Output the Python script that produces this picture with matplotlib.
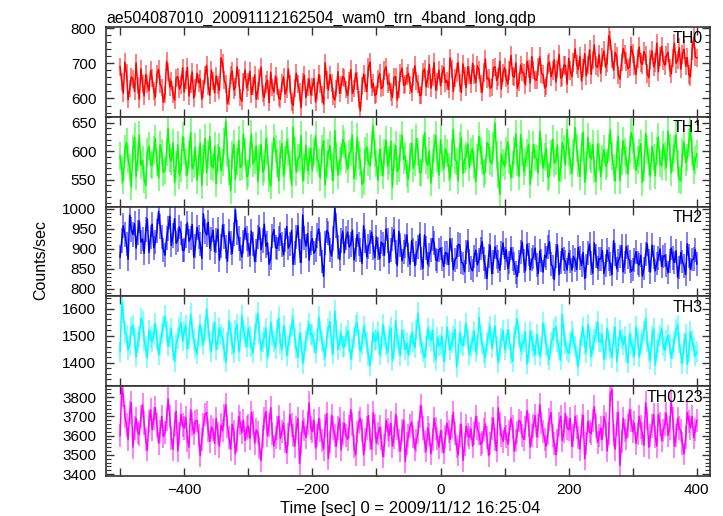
# -*- coding: utf-8 -*-

import numpy as np
import matplotlib
matplotlib.use("Agg")
import matplotlib.pyplot as plt
from matplotlib.ticker import MultipleLocator, FuncFormatter

plt.rcParams['font.family'] = ['Liberation Sans', 'DejaVu Sans']

########################################################################################################################
# data (rates, one value every 2.5 s starting at -500 s)
t0, dt = -500.0, 2.5

th0 = [690, 648, 615, 703, 672, 596, 628, 661, 655, 620, 701, 637, 598, 684, 640, 607, 668, 641, 622, 679,
       657, 622, 604, 669, 683, 640, 631, 590, 612, 705, 676, 633, 649, 611, 595, 658, 662, 627, 638, 687,
       618, 653, 688, 607, 642, 675, 601, 629, 671, 644, 655, 598, 627, 666, 694, 635, 609, 681, 650, 616,
       664, 639, 623, 715, 699, 652, 640, 585, 606, 667, 678, 624, 632, 690, 657, 603, 592, 648, 681, 630,
       646, 677, 611, 635, 667, 598, 622, 659, 689, 614, 603, 642, 652, 588, 674, 631, 618, 664, 636, 602,
       598, 643, 661, 612, 627, 684, 642, 590, 580, 629, 672, 640, 619, 575, 648, 666, 603, 632, 655, 610,
       633, 657, 590, 621, 668, 641, 612, 584, 701, 653, 624, 667, 645, 605, 596, 628, 676, 615, 639, 662,
       657, 626, 608, 649, 682, 614, 628, 672, 650, 597, 565, 636, 669, 645, 620, 688, 704, 631, 643, 609,
       612, 655, 671, 628, 633, 679, 690, 641, 647, 618, 603, 660, 662, 596, 625, 673, 686, 637, 640, 664,
       671, 639, 618, 662, 693, 651, 642, 608, 610, 676, 684, 633, 655, 697, 629, 660, 702, 624, 648, 681,
       636, 670, 689, 645, 651, 626, 715, 683, 620, 658, 674, 702, 643, 617, 698, 664, 631, 690, 667, 642,
       700, 668, 645, 693, 681, 640, 618, 674, 712, 655, 658, 629, 633, 687, 690, 651, 662, 706, 627, 672,
       688, 657, 641, 679, 722, 665, 660, 701, 629, 648, 695, 676, 671, 638, 706, 684, 644, 719, 680, 653,
       652, 689, 718, 671, 668, 630, 635, 697, 703, 662, 679, 710, 647, 684, 725, 658, 662, 695, 694, 641,
       714, 679, 662, 703, 741, 696, 683, 720, 650, 687, 727, 664, 695, 738, 668, 709, 752, 693, 688, 725,
       672, 716, 735, 689, 701, 778, 764, 712, 680, 731, 718, 667, 655, 704, 742, 725, 706, 685, 690, 748,
       728, 694, 668, 713, 746, 702, 697, 733, 721, 671, 659, 711, 735, 690, 702, 757, 676, 719, 748, 707,
       694, 722, 731, 686, 670, 715, 757, 700, 709, 744, 683, 726, 740, 692, 716, 668, 661, 735, 772, 718,
       715]

th1 = [592, 567, 548, 603, 615, 586, 571, 537, 603, 624, 556, 590, 628, 575, 584, 551, 540, 598, 609, 577,
       575, 602, 621, 580, 553, 611, 597, 563, 566, 599, 640, 588, 582, 614, 545, 576, 611, 558, 569, 626,
       600, 581, 558, 594, 633, 569, 577, 607, 549, 583, 614, 540, 586, 622, 562, 595, 625, 574, 571, 609,
       543, 588, 607, 566, 580, 616, 652, 597, 565, 531, 593, 612, 551, 582, 619, 571, 574, 630, 598, 555,
       561, 594, 630, 578, 585, 609, 547, 586, 612, 563, 570, 621, 601, 552, 539, 590, 623, 604, 579, 548,
       595, 613, 556, 584, 618, 599, 576, 541, 642, 600, 563, 588, 589, 627, 548, 572, 610, 566, 583, 605,
       566, 598, 627, 587, 579, 553, 604, 618, 541, 577, 597, 610, 572, 549, 636, 592, 558, 583, 590, 620,
       613, 586, 568, 595, 599, 628, 552, 574, 624, 593, 581, 542, 546, 601, 607, 580, 574, 611, 645, 596,
       578, 549, 603, 581, 557, 596, 619, 573, 584, 617, 537, 590, 610, 564, 569, 606, 628, 585, 592, 561,
       551, 590, 614, 570, 580, 622, 598, 562, 563, 603, 632, 584, 575, 600, 544, 579, 606, 627, 587, 558,
       620, 588, 569, 604, 596, 572, 553, 597, 638, 585, 582, 548, 609, 623, 561, 586, 591, 612, 571, 599,
       604, 576, 547, 589, 626, 601, 585, 560, 565, 615, 612, 583, 578, 608, 649, 593, 559, 524, 594, 580,
       573, 600, 616, 585, 553, 577, 601, 630, 580, 556, 629, 598, 564, 581, 596, 612, 542, 575, 611, 589,
       587, 562, 634, 601, 570, 590, 605, 554, 557, 595, 621, 579, 583, 611, 548, 569, 615, 603, 576, 638,
       599, 582, 561, 597, 641, 605, 578, 556, 607, 633, 546, 574, 624, 591, 586, 612, 568, 547, 612, 590,
       555, 587, 603, 574, 579, 606, 637, 592, 571, 548, 594, 626, 549, 583, 618, 599, 584, 560, 602, 632,
       620, 593, 566, 584, 597, 613, 545, 571, 630, 602, 582, 556, 608, 589, 557, 600, 625, 578, 574, 611,
       591, 572, 635, 606, 562, 587, 604, 629, 578, 551, 548, 596, 616, 580, 589, 614, 643, 598, 567, 584,
       595]

th2 = [880, 921, 958, 936, 912, 874, 985, 948, 936, 963, 902, 941, 970, 917, 925, 889, 948, 975, 891, 930,
       962, 903, 918, 945, 994, 957, 930, 898, 884, 927, 951, 982, 909, 934, 976, 914, 922, 955, 940, 896,
       897, 933, 965, 919, 928, 961, 880, 907, 954, 929, 913, 876, 988, 944, 935, 967, 902, 925, 947, 893,
       921, 949, 872, 908, 960, 931, 905, 869, 943, 915, 889, 937, 998, 941, 926, 900, 880, 918, 952, 926,
       909, 884, 944, 913, 868, 896, 930, 953, 898, 921, 962, 907, 915, 862, 876, 933, 948, 904, 901, 926,
       938, 911, 885, 923, 956, 902, 912, 946, 861, 889, 930, 958, 894, 866, 985, 927, 907, 938, 872, 915,
       926, 889, 897, 934, 950, 913, 868, 831, 915, 946, 940, 897, 882, 926, 1002, 958, 905, 873, 921, 944,
       890, 927, 942, 905, 911, 947, 872, 898, 936, 912, 898, 864, 958, 920, 880, 906, 917, 942, 903, 878,
       930, 901, 875, 917, 912, 884, 950, 921, 866, 897, 925, 948, 892, 858, 944, 910, 870, 893, 908, 935,
       884, 862, 921, 897, 858, 889, 905, 937, 876, 851, 935, 902, 862, 884, 898, 926, 915, 873, 870, 897,
       902, 875, 856, 891, 889, 861, 925, 898, 848, 872, 880, 911, 910, 866, 864, 843, 893, 920, 871, 852,
       845, 881, 897, 860, 872, 901, 918, 874, 855, 826, 882, 909, 838, 867, 905, 879, 868, 847, 889, 915,
       876, 898, 851, 866, 903, 875, 864, 840, 831, 869, 892, 917, 870, 845, 912, 886, 848, 873, 880, 902,
       860, 838, 895, 871, 842, 884, 878, 904, 918, 862, 855, 823, 883, 910, 836, 866, 901, 874, 867, 847,
       889, 869, 847, 881, 872, 848, 904, 877, 858, 891, 826, 857, 890, 912, 865, 839, 915, 882, 852, 875,
       875, 896, 838, 859, 897, 874, 862, 835, 920, 886, 850, 871, 881, 908, 843, 866, 906, 880, 869, 844,
       848, 872, 893, 865, 860, 884, 832, 851, 887, 913, 871, 842, 909, 879, 845, 864, 878, 900, 856, 881,
       884, 859, 840, 870, 902, 877, 866, 895, 829, 854, 891, 868, 857, 836, 913, 882, 849, 873, 875, 898,
       862]

th3 = [1440, 1625, 1585, 1512, 1502, 1447, 1466, 1530, 1538, 1489, 1421, 1474, 1497, 1563, 1551, 1484, 1459, 1418, 1520, 1493,
       1478, 1506, 1545, 1487, 1430, 1468, 1509, 1534, 1572, 1515, 1462, 1493, 1526, 1449, 1405, 1471, 1490, 1529, 1548, 1482,
       1515, 1538, 1452, 1491, 1580, 1527, 1487, 1455, 1433, 1502, 1541, 1496, 1468, 1520, 1599, 1531, 1476, 1443, 1512, 1549,
       1448, 1485, 1530, 1504, 1491, 1446, 1402, 1475, 1557, 1512, 1469, 1437, 1518, 1542, 1440, 1481, 1575, 1523, 1496, 1458,
       1529, 1498, 1460, 1436, 1506, 1545, 1583, 1510, 1444, 1477, 1493, 1528, 1417, 1462, 1550, 1501, 1479, 1454, 1521, 1566,
       1472, 1449, 1538, 1497, 1426, 1465, 1500, 1536, 1561, 1489, 1455, 1420, 1511, 1476, 1398, 1441, 1484, 1519, 1543, 1505,
       1503, 1474, 1437, 1488, 1569, 1516, 1481, 1447, 1422, 1495, 1527, 1552, 1466, 1433, 1591, 1523, 1450, 1482, 1508, 1461,
       1459, 1496, 1520, 1478, 1412, 1453, 1494, 1537, 1548, 1486, 1441, 1469, 1533, 1505, 1474, 1425, 1390, 1448, 1512, 1481,
       1485, 1514, 1431, 1460, 1542, 1499, 1468, 1436, 1501, 1529, 1409, 1452, 1556, 1490, 1463, 1427, 1520, 1487, 1448, 1473,
       1427, 1466, 1510, 1479, 1456, 1524, 1583, 1502, 1471, 1440, 1418, 1459, 1527, 1498, 1482, 1521, 1439, 1411, 1495, 1463,
       1468, 1497, 1405, 1444, 1532, 1481, 1450, 1476, 1497, 1524, 1385, 1433, 1514, 1470, 1462, 1501, 1546, 1487, 1430, 1458,
       1483, 1517, 1440, 1464, 1568, 1505, 1472, 1438, 1419, 1475, 1508, 1532, 1455, 1491, 1536, 1462, 1401, 1446, 1489, 1520,
       1449, 1473, 1521, 1486, 1432, 1405, 1494, 1528, 1560, 1497, 1444, 1469, 1478, 1512, 1396, 1437, 1517, 1483, 1461, 1429,
       1503, 1468, 1426, 1455, 1547, 1509, 1465, 1431, 1412, 1476, 1491, 1522, 1533, 1480, 1448, 1410, 1579, 1506, 1470, 1444,
       1436, 1472, 1515, 1490, 1459, 1425, 1387, 1451, 1502, 1530, 1468, 1439, 1541, 1493, 1423, 1464, 1485, 1511, 1551, 1477,
       1477, 1503, 1413, 1449, 1528, 1484, 1452, 1420, 1496, 1531, 1404, 1458, 1519, 1488, 1466, 1497, 1437, 1400, 1509, 1471,
       1455, 1426, 1532, 1491, 1421, 1468, 1487, 1515, 1564, 1478, 1443, 1410, 1498, 1525, 1392, 1445, 1473, 1500, 1527, 1462,
       1446, 1484, 1501, 1467, 1418, 1452, 1480, 1523, 1539, 1474, 1432, 1398, 1470, 1506, 1395, 1440, 1514, 1481, 1458, 1427,
       1440]

th0123 = [3600, 3845, 3810, 3700, 3655, 3580, 3720, 3770, 3540, 3640, 3690, 3615, 3605, 3700, 3760, 3665, 3580, 3525, 3675, 3735,
          3630, 3690, 3745, 3655, 3560, 3620, 3700, 3595, 3615, 3685, 3790, 3700, 3585, 3530, 3660, 3725, 3520, 3610, 3710, 3655,
          3640, 3695, 3575, 3540, 3735, 3660, 3610, 3675, 3680, 3600, 3495, 3580, 3655, 3710, 3720, 3625, 3570, 3645, 3630, 3560,
          3690, 3610, 3545, 3655, 3625, 3705, 3760, 3650, 3590, 3530, 3660, 3620, 3505, 3575, 3700, 3665, 3615, 3680, 3575, 3640,
          3650, 3585, 3720, 3665, 3560, 3630, 3615, 3540, 3470, 3595, 3690, 3725, 3600, 3655, 3745, 3610, 3545, 3590, 3640, 3700,
          3585, 3620, 3665, 3570, 3510, 3605, 3710, 3655, 3600, 3545, 3640, 3690, 3455, 3560, 3675, 3630, 3590, 3665, 3770, 3640,
          3620, 3680, 3535, 3600, 3690, 3625, 3575, 3530, 3650, 3715, 3480, 3570, 3705, 3640, 3600, 3545, 3640, 3690, 3525, 3610,
          3665, 3600, 3580, 3645, 3735, 3660, 3545, 3500, 3615, 3670, 3690, 3625, 3500, 3580, 3640, 3705, 3585, 3530, 3720, 3650,
          3560, 3610, 3645, 3585, 3490, 3550, 3680, 3630, 3600, 3665, 3545, 3590, 3710, 3640, 3575, 3520, 3625, 3680, 3465, 3560,
          3600, 3650, 3670, 3595, 3530, 3575, 3615, 3700, 3755, 3640, 3570, 3520, 3640, 3605, 3505, 3580, 3690, 3635, 3585, 3540,
          3625, 3570, 3510, 3595, 3665, 3620, 3580, 3645, 3720, 3610, 3545, 3500, 3600, 3660, 3470, 3555, 3650, 3605, 3590, 3635,
          3545, 3610, 3700, 3640, 3610, 3555, 3565, 3630, 3660, 3590, 3495, 3560, 3635, 3690, 3580, 3520, 3745, 3660, 3600, 3570,
          3640, 3595, 3555, 3620, 3690, 3645, 3520, 3575, 3615, 3680, 3670, 3600, 3580, 3640, 3730, 3655, 3540, 3600, 3650, 3705,
          3595, 3650, 3760, 3670, 3620, 3580, 3545, 3610, 3685, 3720, 3600, 3560, 3500, 3575, 3660, 3700, 3575, 3620, 3715, 3640,
          3630, 3690, 3545, 3600, 3700, 3645, 3590, 3530, 3650, 3705, 3480, 3560, 3675, 3620, 3610, 3680, 3750, 3650, 3565, 3600,
          3640, 3580, 3700, 3660, 3520, 3610, 3815, 3840, 3600, 3530, 3660, 3720, 3445, 3570, 3690, 3625, 3585, 3650, 3735, 3680,
          3620, 3665, 3560, 3610, 3700, 3645, 3610, 3550, 3770, 3690, 3540, 3600, 3650, 3710, 3595, 3545, 3710, 3660, 3575, 3625,
          3660, 3715, 3600, 3640, 3780, 3690, 3545, 3600, 3690, 3640, 3625, 3560, 3505, 3590, 3720, 3675, 3640, 3700, 3590, 3630,
          3680]

names = ['TH0', 'TH1', 'TH2', 'TH3', 'TH0123']
series = [th0, th1, th2, th3, th0123]
colors = ['#ff0000', '#00ff00', '#0000ff', '#00ffff', '#ff00ff']
ylims = [(548, 803), (503, 660), (781, 1006), (1314, 1645), (3390, 3857)]
ymajor = [100, 50, 50, 100, 100]
yminor = [20, 10, 10, 20, 20]

########################################################################################################################
# figure
fig = plt.figure(figsize=(7.23, 5.16), dpi=100)
left, right = 106 / 723, 710 / 723
top_px, h_px = 27, 89.8

axes = []
for i, (name, y, c) in enumerate(zip(names, series, colors)):
    y = np.array(y, dtype=float)
    t = t0 + dt * np.arange(len(y))
    err = np.sqrt(y)   # poisson error for 1 s bin
    bottom = 1 - (top_px + (i + 1) * h_px) / 516
    ax = fig.add_axes([left, bottom, right - left, h_px / 516])
    ax.errorbar(t, y, yerr=err, fmt='none', ecolor=c, alpha=0.5, lw=1.4, zorder=2)
    ax.plot(t, y, color=c, lw=1.1, zorder=3)

    ax.set_xlim(-522, 420.5)
    ax.set_ylim(*ylims[i])
    ax.xaxis.set_major_locator(MultipleLocator(100))
    ax.yaxis.set_major_locator(MultipleLocator(ymajor[i]))
    ax.yaxis.set_minor_locator(MultipleLocator(yminor[i]))
    ax.tick_params(which='both', direction='in', top=True, right=True, labelsize=11, color='#333333')
    ax.tick_params(which='major', length=6, width=1)
    ax.tick_params(which='minor', length=3.5, width=0.8)
    ax.tick_params(axis='y', pad=7)
    ax.tick_params(axis='x', pad=5)
    for s in ax.spines.values():
        s.set_linewidth(1.2)
        s.set_color('#333333')

    ax.text(0.988, 0.96, name, transform=ax.transAxes, ha='right', va='top', fontsize=11.5, zorder=5)

    if i < len(names) - 1:
        ax.tick_params(labelbottom=False)
    else:
        ax.xaxis.set_major_formatter(FuncFormatter(
            lambda v, p: ('%d' % v).replace('-', '\u2212') if int(round(v)) % 200 == 0 else ''))
    axes.append(ax)

axes[0].set_title('ae504087010_20091112162504_wam0_trn_4band_long.qdp', loc='left', fontsize=11.4, pad=3)
fig.text(41 / 723, 1 - 260 / 516, 'Counts/sec', rotation=90, ha='center', va='center', fontsize=11.5)
fig.text(410 / 723, 1 - 508 / 516, 'Time [sec] 0 = 2009/11/12 16:25:04', ha='center', va='center', fontsize=12)

fig.savefig('out.png', dpi=100)
